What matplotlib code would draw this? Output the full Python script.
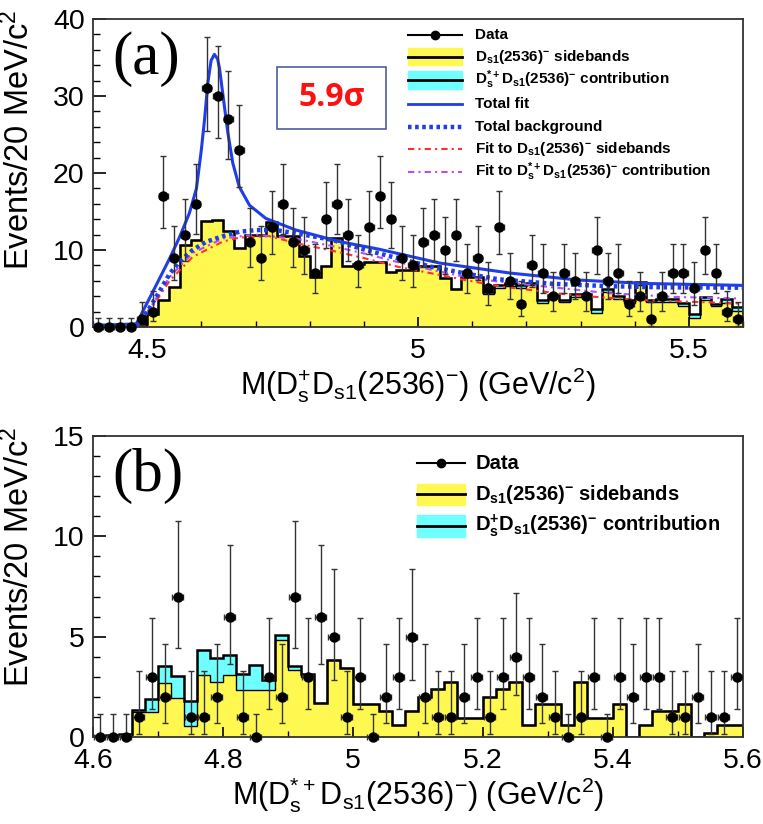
import numpy as np
import matplotlib.pyplot as plt
from matplotlib.patches import Rectangle
from matplotlib.ticker import MultipleLocator

plt.rcParams['font.family'] = ['Liberation Sans', 'DejaVu Sans']
plt.rcParams['mathtext.default'] = 'regular'

# ---- panel (a): M(Ds+ Ds1(2536)-), 20 MeV bins 4.40-5.60
edges_a = np.linspace(4.40, 5.60, 61)
data_a = [0, 0, 0, 0, 1, 2, 17, 9, 12, 16,
          31, 30, 27, 23, 11, 9, 13, 16, 11, 10,
          7, 14, 16, 12, 8, 13, 17, 14, 9, 8,
          11, 12, 10, 12, 7, 9, 5, 13, 6, 3,
          8, 7, 4, 7, 6, 4, 10, 6, 7, 3,
          4, 1, 4, 7, 7, 5, 10, 7, 2, 1]
# top of the stacked histogram (sidebands + contribution)
stack_a = [0, 0, 0, 0, 0.4, 1.7, 3.5, 5.2, 10.6, 11.3,
           13.7, 13.9, 12.4, 10.3, 12.0, 12.0, 13.6, 11.8, 11.8, 9.2,
           6.5, 7.9, 11.5, 7.9, 8.2, 8.4, 8.5, 7.1, 7.4, 7.4,
           7.9, 7.9, 6.3, 4.9, 6.5, 6.5, 4.6, 5.4, 5.7, 5.4,
           5.7, 3.5, 4.1, 3.5, 4.3, 4.3, 2.3, 4.9, 4.0, 3.5,
           5.9, 3.5, 3.6, 3.6, 3.1, 1.7, 3.9, 3.0, 3.6, 2.6]
contrib_a = [0] * 36 + [0.3, 0.3, 0.4, 0.4, 0.3, 0.4, 0.4, 0.3, 0.4, 0.4, 0.5, 0.3,
                        0.4, 0.4, 0.4, 0.3, 0.4, 0.3, 0.4, 0.5, 0.4, 0.3, 0.5, 0.5]

fit_x = [4.400, 4.480, 4.499, 4.520, 4.5415, 4.560, 4.578, 4.591, 4.600, 4.606,
         4.612, 4.618, 4.624, 4.630, 4.6335, 4.641, 4.649, 4.658, 4.670, 4.689,
         4.719, 4.774, 4.854, 4.928, 5.040, 5.170, 5.295, 5.418, 5.600]
fit_y = [0.2, 0.4, 3.0, 5.9, 8.9, 11.7, 14.8, 18.0, 23.0, 27.0,
         31.7, 34.6, 35.4, 34.8, 33.6, 29.5, 25.2, 21.3, 18.2, 15.8,
         14.1, 12.6, 11.1, 10.1, 8.3, 7.0, 6.1, 5.65, 5.4]
bkg_x = [4.400, 4.480, 4.502, 4.520, 4.5415, 4.560, 4.584, 4.609, 4.640, 4.670,
         4.701, 4.738, 4.780, 4.842, 4.903, 4.964, 5.026, 5.087, 5.148, 5.250,
         5.350, 5.450, 5.600]
bkg_y = [0.1, 0.2, 2.2, 4.3, 6.9, 8.5, 10.0, 11.06, 11.8, 12.36,
         12.58, 12.58, 12.1, 11.3, 10.0, 8.9, 7.8, 6.95, 6.2, 5.6,
         5.3, 5.15, 5.1]
sbfit_x = [4.480, 4.500, 4.5415, 4.584, 4.640, 4.670, 4.725, 4.780, 4.842, 4.903,
           4.964, 5.026, 5.087, 5.148, 5.220, 5.289, 5.4115, 5.595]
sbfit_y = [0.0, 1.6, 6.0, 9.1, 11.1, 11.6, 11.8, 10.8, 9.9, 8.9,
           7.8, 6.95, 6.1, 5.3, 4.7, 4.1, 3.5, 3.05]
ctfit_x = [4.480, 4.500, 4.5415, 4.584, 4.640, 4.700, 4.780, 4.842, 4.903, 4.964,
           5.026, 5.087, 5.148, 5.228, 5.350, 5.473, 5.595]
ctfit_y = [0.0, 1.9, 6.5, 9.6, 11.5, 12.0, 11.4, 10.5, 9.5, 8.4,
           7.4, 6.5, 5.9, 5.3, 4.4, 3.9, 3.7]

# ---- panel (b): M(Ds*+ Ds1(2536)-), 20 MeV bins 4.60-5.60
edges_b = np.linspace(4.60, 5.60, 51)
data_b = [0, 0, 0, 1, 3, 2, 7, 1, 1, 2,
          6, 1, 0, 3, 2, 7, 3, 6, 5, 1,
          3, 0, 2, 3, 5, 2, 1, 1, 2, 3,
          1, 3, 4, 3, 2, 1, 0, 1, 3, 0,
          3, 2, 3, 3, 1, 1, 2, 1, 1, 3]
sideband_b = [0, 0, 0, 1.23, 1.23, 2.68, 1.93, 0.55, 3.07, 2.72,
              3.07, 2.35, 2.35, 2.35, 4.85, 3.35, 3.0, 1.7, 3.85, 3.45,
              1.65, 1.65, 1.3, 0.6, 1.3, 2.0, 2.38, 2.72, 0.93, 0.93,
              1.97, 2.38, 2.72, 0.6, 1.65, 1.65, 0.6, 2.72, 0.93, 0.93,
              1.65, 0, 0.6, 1.3, 1.3, 1.65, 0, 0.2, 0.6, 0.6]
contrib_b = [0.05, 0.1, 0.15, 0.12, 0.65, 0.87, 1.12, 1.22, 1.28, 1.21,
             1.03, 0.8, 1.25, 0.47, 0.23, 0.2, 0.15] + [0] * 33

# 68% Poisson intervals, indexed by the bin count
pois_lo = [0, 0.17, 0.71, 1.37, 2.09, 2.84, 3.62, 4.42, 5.23, 6.06,
           6.89, 7.73, 8.58, 9.43, 10.29, 11.16, 12.03, 12.90, 13.78, 14.66,
           15.55, 16.44, 17.33, 18.23, 19.13, 20.03, 20.94, 21.85, 22.76, 23.67,
           24.59, 25.50]
pois_hi = [1.15, 3.30, 4.64, 5.92, 7.16, 8.38, 9.58, 10.77, 11.95, 13.11,
           14.27, 15.42, 16.57, 17.71, 18.84, 19.98, 21.10, 22.23, 23.35, 24.46,
           25.57, 26.68, 27.79, 28.89, 29.99, 31.08, 32.18, 33.27, 34.36, 35.44,
           36.52, 37.60]

yellow = '#fff850'
cyan = '#70ffff'
blue = '#1f3de8'
red = '#ff3030'
purple = '#b44dff'

lab_sb = r'D$_{s1}$(2536)$^{-}$ sidebands'
lab_ct_a = r'D$_{s}^{*+}$D$_{s1}$(2536)$^{-}$ contribution'
lab_ct_b = r'D$_{s}^{+}$D$_{s1}$(2536)$^{-}$ contribution'


def draw_hist(ax, edges, sb, ct):
    sb = np.asarray(sb, float)
    top = sb + np.asarray(ct, float)
    ax.stairs(sb, edges, fill=True, color=yellow, zorder=1)
    ax.stairs(top, edges, baseline=sb, fill=True, color=cyan, zorder=1)
    ax.stairs(sb, edges, color='k', lw=1.0, zorder=2)
    ax.stairs(top, edges, color='k', lw=1.8, zorder=2)


def draw_data(ax, edges, counts):
    counts = np.asarray(counts)
    centers = 0.5 * (edges[:-1] + edges[1:])
    lo = counts - np.take(pois_lo, counts)
    hi = np.take(pois_hi, counts) - counts
    ax.errorbar(centers, counts, yerr=[lo, hi], xerr=0.008, fmt='o', ms=6.5,
                color='k', ecolor='#333333', elinewidth=1.0, capsize=2,
                capthick=1.0, zorder=5, clip_on=False)


def style_axes(ax, xmaj, xmin, ymaj, ymin):
    ax.xaxis.set_major_locator(MultipleLocator(xmaj))
    ax.xaxis.set_minor_locator(MultipleLocator(xmin))
    ax.yaxis.set_major_locator(MultipleLocator(ymaj))
    ax.yaxis.set_minor_locator(MultipleLocator(ymin))
    ax.tick_params(which='both', direction='in', labelsize=20.5, top=False, right=False)
    ax.tick_params(axis='y', which='major', length=9, width=1.2, pad=6)
    ax.tick_params(axis='y', which='minor', length=5, width=1.0)
    ax.tick_params(axis='x', which='major', length=7, width=1.2, pad=8)
    ax.tick_params(axis='x', which='minor', length=4, width=1.0)
    for s in ax.spines.values():
        s.set_linewidth(1.3)
        s.set_color('#333333')
    ax.set_ylabel('Events/20 MeV/c$^{2}$', fontsize=23.5, loc='top')
    ax.yaxis.set_label_coords(-0.087, 1.03)


def legend_rows(ax, rows, ys, x0, x1, xt, boxh, fs):
    for (kind, label), y in zip(rows, ys):
        tr = ax.transAxes
        if kind == 'data':
            ax.plot([x0, x1], [y, y], color='k', lw=1.5, transform=tr, clip_on=False)
            ax.plot([(x0 + x1) / 2], [y], 'o', color='k', ms=6, transform=tr, clip_on=False)
        elif kind in ('sb', 'ct'):
            col = yellow if kind == 'sb' else cyan
            ax.add_patch(Rectangle((x0, y - boxh), x1 - x0, 2 * boxh, color=col,
                                   transform=tr, clip_on=False, zorder=6))
            ax.plot([x0, x1], [y, y], color='k', lw=2.0, transform=tr, clip_on=False, zorder=7)
        elif kind == 'fit':
            ax.plot([x0, x1], [y, y], color=blue, lw=2.0, transform=tr, clip_on=False)
        elif kind == 'bkg':
            ax.plot([x0, x1], [y, y], color=blue, lw=3.2, ls=(0, (0.8, 0.8)),
                    transform=tr, clip_on=False)
        elif kind == 'sbfit':
            ax.plot([x0, x1], [y, y], color=red, lw=1.5, ls=(0, (3, 2, 1, 2)),
                    transform=tr, clip_on=False)
        elif kind == 'ctfit':
            ax.plot([x0, x1], [y, y], color=purple, lw=1.5, ls=(0, (3, 2, 1, 2)),
                    transform=tr, clip_on=False)
        ax.text(xt, y, label, transform=tr, fontsize=fs, fontweight='bold',
                va='center', ha='left')


fig = plt.figure(figsize=(7.63, 8.24), dpi=100)

# ---------------- panel (a)
ax1 = fig.add_axes([0.1219, 0.6032, 0.8519, 0.3738])
draw_hist(ax1, edges_a, np.subtract(stack_a, contrib_a), contrib_a)
ax1.plot(sbfit_x, sbfit_y, color=red, lw=1.5, ls=(0, (3, 2, 1, 2)), zorder=3)
ax1.plot(ctfit_x, ctfit_y, color=purple, lw=1.5, ls=(0, (3, 2, 1, 2)), zorder=3)
ax1.plot(bkg_x, bkg_y, color=blue, lw=3.2, ls=(0, (0.8, 0.8)), zorder=3)
ax1.plot(fit_x, fit_y, color=blue, lw=2.2, zorder=4)
draw_data(ax1, edges_a, data_a)
ax1.set_xlim(4.40, 5.60)
ax1.set_ylim(0, 40)
style_axes(ax1, 0.5, 0.1, 10, 2)
ax1.set_xticks([4.5, 5.0, 5.5], ['4.5', '5', '5.5'])
ax1.set_xlabel(r'M(D$_{s}^{+}$D$_{s1}$(2536)$^{-}$) (GeV/c$^{2}$)', fontsize=22, labelpad=1)
ax1.text(0.03, 0.87, '(a)', transform=ax1.transAxes, fontsize=44,
         family='Liberation Serif', va='center', ha='left')
ax1.add_patch(Rectangle((0.283, 0.643), 0.168, 0.201, transform=ax1.transAxes,
                        facecolor='white', edgecolor='#4f5fa0', lw=1.2, zorder=6))
ax1.text(0.367, 0.744, '5.9σ', transform=ax1.transAxes, color='#ff1010',
         fontsize=23, fontweight='bold', family=['Open Sans', 'DejaVu Sans'],
         ha='center', va='center', zorder=7)
rows_a = [('data', 'Data'), ('sb', lab_sb), ('ct', lab_ct_a), ('fit', 'Total fit'),
          ('bkg', 'Total background'), ('sbfit', 'Fit to ' + lab_sb),
          ('ctfit', 'Fit to ' + lab_ct_a)]
ys_a = [0.948, 0.877, 0.802, 0.724, 0.649, 0.578, 0.503]
legend_rows(ax1, rows_a, ys_a, 0.485, 0.568, 0.588, 0.028, 11)

# ---------------- panel (b)
ax2 = fig.add_axes([0.1219, 0.1056, 0.8519, 0.3653])
draw_hist(ax2, edges_b, sideband_b, contrib_b)
draw_data(ax2, edges_b, data_b)
ax2.set_xlim(4.60, 5.60)
ax2.set_ylim(0, 15)
style_axes(ax2, 0.2, 0.1, 5, 1)
ax2.set_xticks([4.6, 4.8, 5.0, 5.2, 5.4, 5.6], ['4.6', '4.8', '5', '5.2', '5.4', '5.6'])
ax2.set_xlabel(r'M(D$_{s}^{*+}$D$_{s1}$(2536)$^{-}$) (GeV/c$^{2}$)', fontsize=22, labelpad=1)
ax2.text(0.03, 0.867, '(b)', transform=ax2.transAxes, fontsize=44,
         family='Liberation Serif', va='center', ha='left')
rows_b = [('data', 'Data'), ('sb', lab_sb), ('ct', lab_ct_b)]
ys_b = [0.910, 0.807, 0.701]
legend_rows(ax2, rows_b, ys_b, 0.498, 0.572, 0.588, 0.035, 14.5)

fig.savefig('out.png', dpi=100)
